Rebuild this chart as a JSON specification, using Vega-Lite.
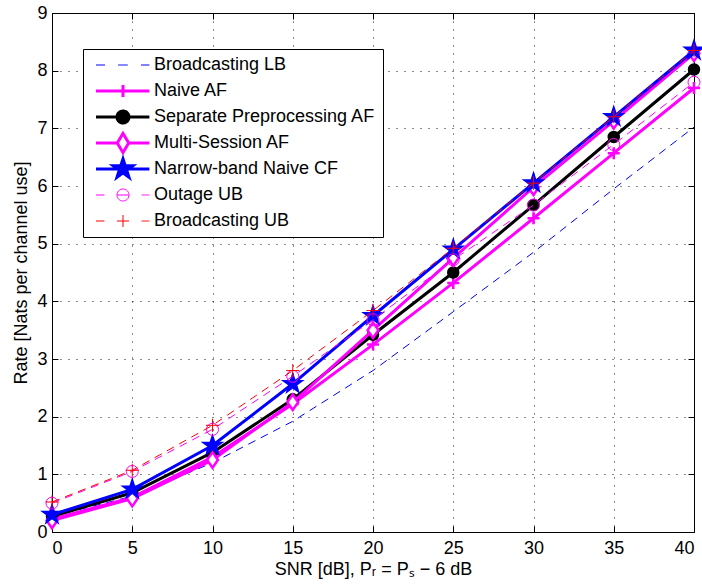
{
  "$schema": "https://vega.github.io/schema/vega-lite/v6.json",
  "width": 642,
  "height": 519,
  "autosize": "none",
  "padding": {"left": 52, "top": 13, "right": 8, "bottom": 52},
  "background": "white",
  "config": {
    "view": {"stroke": "black", "strokeWidth": 1},
    "font": "Liberation Sans",
    "axis": {
      "domainColor": "black",
      "tickColor": "black",
      "tickSize": -6,
      "labelColor": "black",
      "labelFont": "Liberation Sans",
      "labelFontSize": 18,
      "titleFont": "Liberation Sans",
      "titleFontSize": 18,
      "titleFontWeight": "normal",
      "titleColor": "black",
      "grid": true,
      "gridColor": "#000000",
      "gridOpacity": 0.9,
      "gridDash": [1, 7]
    }
  },
  "data": {
    "values": [
      {"series": "Broadcasting LB", "snr": 0, "rate": 0.27},
      {"series": "Broadcasting LB", "snr": 5, "rate": 0.62},
      {"series": "Broadcasting LB", "snr": 10, "rate": 1.2},
      {"series": "Broadcasting LB", "snr": 15, "rate": 1.92},
      {"series": "Broadcasting LB", "snr": 20, "rate": 2.8},
      {"series": "Broadcasting LB", "snr": 25, "rate": 3.82},
      {"series": "Broadcasting LB", "snr": 30, "rate": 4.85},
      {"series": "Broadcasting LB", "snr": 35, "rate": 5.95},
      {"series": "Broadcasting LB", "snr": 40, "rate": 7.02},
      {"series": "Naive AF", "snr": 0, "rate": 0.22},
      {"series": "Naive AF", "snr": 5, "rate": 0.6},
      {"series": "Naive AF", "snr": 10, "rate": 1.3},
      {"series": "Naive AF", "snr": 15, "rate": 2.22},
      {"series": "Naive AF", "snr": 20, "rate": 3.25},
      {"series": "Naive AF", "snr": 25, "rate": 4.32},
      {"series": "Naive AF", "snr": 30, "rate": 5.44},
      {"series": "Naive AF", "snr": 35, "rate": 6.57},
      {"series": "Naive AF", "snr": 40, "rate": 7.7},
      {"series": "Separate Preprocessing AF", "snr": 0, "rate": 0.27},
      {"series": "Separate Preprocessing AF", "snr": 5, "rate": 0.68},
      {"series": "Separate Preprocessing AF", "snr": 10, "rate": 1.38},
      {"series": "Separate Preprocessing AF", "snr": 15, "rate": 2.3},
      {"series": "Separate Preprocessing AF", "snr": 20, "rate": 3.42},
      {"series": "Separate Preprocessing AF", "snr": 25, "rate": 4.5},
      {"series": "Separate Preprocessing AF", "snr": 30, "rate": 5.67},
      {"series": "Separate Preprocessing AF", "snr": 35, "rate": 6.85},
      {"series": "Separate Preprocessing AF", "snr": 40, "rate": 8.02},
      {"series": "Multi-Session AF", "snr": 0, "rate": 0.2},
      {"series": "Multi-Session AF", "snr": 5, "rate": 0.58},
      {"series": "Multi-Session AF", "snr": 10, "rate": 1.25},
      {"series": "Multi-Session AF", "snr": 15, "rate": 2.25},
      {"series": "Multi-Session AF", "snr": 20, "rate": 3.5},
      {"series": "Multi-Session AF", "snr": 25, "rate": 4.75},
      {"series": "Multi-Session AF", "snr": 30, "rate": 5.98},
      {"series": "Multi-Session AF", "snr": 35, "rate": 7.13},
      {"series": "Multi-Session AF", "snr": 40, "rate": 8.3},
      {"series": "Narrow-band Naive CF", "snr": 0, "rate": 0.3},
      {"series": "Narrow-band Naive CF", "snr": 5, "rate": 0.74},
      {"series": "Narrow-band Naive CF", "snr": 10, "rate": 1.5},
      {"series": "Narrow-band Naive CF", "snr": 15, "rate": 2.57},
      {"series": "Narrow-band Naive CF", "snr": 20, "rate": 3.75},
      {"series": "Narrow-band Naive CF", "snr": 25, "rate": 4.9},
      {"series": "Narrow-band Naive CF", "snr": 30, "rate": 6.05},
      {"series": "Narrow-band Naive CF", "snr": 35, "rate": 7.2},
      {"series": "Narrow-band Naive CF", "snr": 40, "rate": 8.35},
      {"series": "Outage UB", "snr": 0, "rate": 0.5},
      {"series": "Outage UB", "snr": 5, "rate": 1.05},
      {"series": "Outage UB", "snr": 10, "rate": 1.78},
      {"series": "Outage UB", "snr": 15, "rate": 2.7},
      {"series": "Outage UB", "snr": 20, "rate": 3.68},
      {"series": "Outage UB", "snr": 25, "rate": 4.72},
      {"series": "Outage UB", "snr": 30, "rate": 5.67},
      {"series": "Outage UB", "snr": 35, "rate": 6.72},
      {"series": "Outage UB", "snr": 40, "rate": 7.8},
      {"series": "Broadcasting UB", "snr": 0, "rate": 0.52},
      {"series": "Broadcasting UB", "snr": 5, "rate": 1.07},
      {"series": "Broadcasting UB", "snr": 10, "rate": 1.85},
      {"series": "Broadcasting UB", "snr": 15, "rate": 2.8},
      {"series": "Broadcasting UB", "snr": 20, "rate": 3.84},
      {"series": "Broadcasting UB", "snr": 25, "rate": 4.92},
      {"series": "Broadcasting UB", "snr": 30, "rate": 6.05},
      {"series": "Broadcasting UB", "snr": 35, "rate": 7.2},
      {"series": "Broadcasting UB", "snr": 40, "rate": 8.35}
    ]
  },
  "encoding": {
    "x": {
      "field": "snr", "type": "quantitative",
      "scale": {"domain": [0, 40], "nice": false},
      "axis": {"values": [0, 5, 10, 15, 20, 25, 30, 35, 40], "labelPadding": 13, "titlePadding": 3, "title": "SNR [dB], Pᵣ = Pₛ − 6 dB"}
    },
    "y": {
      "field": "rate", "type": "quantitative",
      "scale": {"domain": [0, 9], "nice": false},
      "axis": {"values": [0, 1, 2, 3, 4, 5, 6, 7, 8, 9], "labelPadding": 11, "titlePadding": 6, "title": "Rate [Nats per channel use]"}
    },
    "color": {
      "field": "series", "type": "nominal",
      "scale": {
        "domain": ["Broadcasting LB", "Naive AF", "Separate Preprocessing AF", "Multi-Session AF", "Narrow-band Naive CF", "Outage UB", "Broadcasting UB"],
        "range": ["#0000ff", "#ff00ff", "#000000", "#ff00ff", "#0000ff", "#ff00ff", "#ff0000"]
      },
      "legend": {
        "title": null,
        "orient": "none",
        "legendX": 31,
        "legendY": 36,
        "strokeColor": "black",
        "fillColor": "white",
        "padding": 7,
        "cornerRadius": 0,
        "labelFont": "Liberation Sans",
        "labelFontSize": 18,
        "labelColor": "black",
        "labelLimit": 0,
        "symbolSize": 144,
        "rowPadding": -7,
        "gridAlign": "all",
        "symbolOffset": 24,
        "labelOffset": 22,
        "encode": {
          "symbols": {
            "update": {
              "shape": {"signal": "({'Broadcasting LB': 'M-4.5,0H-3M-0.8,0H0.8M3,0H4.4', 'Naive AF': 'M-4.5,0H4.4M0,-1V1', 'Separate Preprocessing AF': 'M-4.5,0H4.4M1,0A1,1,0,1,1,-1,0A1,1,0,1,1,1,0Z', 'Multi-Session AF': 'M-4.5,0H-0.95M0.95,0H4.4M0,-1.6L0.95,0L0,1.6L-0.95,0Z', 'Narrow-band Naive CF': 'M-4.5,0H4.4M0,-1.7L0.382,-0.525L1.617,-0.525L0.618,0.2L1,1.375L0,0.65L-1,1.375L-0.618,0.2L-1.617,-0.525L-0.382,-0.525Z', 'Outage UB': 'M-4.5,0H-3.1M3.1,0H4.4M1,0A1,1,0,1,1,-1,0A1,1,0,1,1,1,0ZM-1,0H1', 'Broadcasting UB': 'M-4.5,0H-3.1M3.1,0H4.4M-1,0H1M0,-1V1'})[datum.value]"},
              "fill": {"signal": "({'Separate Preprocessing AF': 'black', 'Narrow-band Naive CF': 'blue', 'Multi-Session AF': 'white'})[datum.value] || 'transparent'"},
              "stroke": {"signal": "({'Broadcasting LB': '#0000ff', 'Naive AF': '#ff00ff', 'Separate Preprocessing AF': '#000000', 'Multi-Session AF': '#ff00ff', 'Narrow-band Naive CF': '#0000ff', 'Outage UB': '#ff00ff', 'Broadcasting UB': '#ff0000'})[datum.value]"},
              "strokeWidth": {"signal": "indexof(['Naive AF', 'Separate Preprocessing AF', 'Multi-Session AF', 'Narrow-band Naive CF'], datum.value) >= 0 ? 3 : 1"},
              "strokeDash": {"value": [1, 0]},
              "opacity": {"value": 1}
            }
          }
        }
      }
    }
  },
  "layer": [
    {
      "layer": [
        {
          "transform": [{"filter": "datum.series === 'Broadcasting LB'"}],
          "mark": {"type": "line", "strokeWidth": 1, "strokeDash": [8, 6]}
        },
        {
          "transform": [{"filter": "datum.series === 'Naive AF'"}],
          "mark": {"type": "line", "strokeWidth": 3}
        },
        {
          "transform": [{"filter": "datum.series === 'Naive AF'"}],
          "mark": {"type": "point", "filled": false, "opacity": 1, "size": 144, "strokeWidth": 2.5, "shape": "M-1,0H1M0,-1V1"}
        },
        {
          "transform": [{"filter": "datum.series === 'Separate Preprocessing AF'"}],
          "mark": {"type": "line", "strokeWidth": 3}
        },
        {
          "transform": [{"filter": "datum.series === 'Separate Preprocessing AF'"}],
          "mark": {"type": "point", "filled": false, "opacity": 1, "size": 110, "strokeWidth": 2, "shape": "circle", "fill": "#000000"}
        },
        {
          "transform": [{"filter": "datum.series === 'Multi-Session AF'"}],
          "mark": {"type": "line", "strokeWidth": 3}
        },
        {
          "transform": [{"filter": "datum.series === 'Multi-Session AF'"}],
          "mark": {"type": "point", "filled": false, "opacity": 1, "size": 144, "strokeWidth": 2.5, "shape": "M0,-1.3L0.9,0L0,1.3L-0.9,0Z", "fill": "#ffffff"}
        },
        {
          "transform": [{"filter": "datum.series === 'Narrow-band Naive CF'"}],
          "mark": {"type": "line", "strokeWidth": 3}
        },
        {
          "transform": [{"filter": "datum.series === 'Narrow-band Naive CF'"}],
          "mark": {"type": "point", "filled": false, "opacity": 1, "size": 144, "strokeWidth": 2, "fill": "#0000ff", "shape": "M0,-1.55L0.348,-0.479L1.474,-0.479L0.563,0.183L0.911,1.254L0,0.592L-0.911,1.254L-0.563,0.183L-1.474,-0.479L-0.348,-0.479Z"}
        },
        {
          "transform": [{"filter": "datum.series === 'Outage UB'"}],
          "mark": {"type": "line", "strokeWidth": 1, "strokeDash": [8, 6]}
        },
        {
          "transform": [{"filter": "datum.series === 'Outage UB'"}],
          "mark": {"type": "point", "filled": false, "opacity": 1, "size": 144, "strokeWidth": 1, "shape": "circle"}
        },
        {
          "transform": [{"filter": "datum.series === 'Broadcasting UB'"}],
          "mark": {"type": "line", "strokeWidth": 1, "strokeDash": [8, 6]}
        },
        {
          "transform": [{"filter": "datum.series === 'Broadcasting UB'"}],
          "mark": {"type": "point", "filled": false, "opacity": 1, "size": 144, "strokeWidth": 1, "shape": "M-1.1,0H1.1M0,-1.1V1.1"}
        }
      ]
    },
    {
      "transform": [{"filter": "datum.series === 'Broadcasting LB'"}],
      "mark": {"type": "point", "opacity": 0},
      "encoding": {
        "x": {
          "field": "snr", "type": "quantitative",
          "scale": {"domain": [0, 40], "nice": false},
          "axis": {"orient": "top", "values": [0, 5, 10, 15, 20, 25, 30, 35, 40], "labels": false, "title": null, "grid": false, "domain": false}
        },
        "y": {
          "field": "rate", "type": "quantitative",
          "scale": {"domain": [0, 9], "nice": false},
          "axis": {"orient": "right", "values": [0, 1, 2, 3, 4, 5, 6, 7, 8, 9], "labels": false, "title": null, "grid": false, "domain": false}
        }
      }
    }
  ],
  "resolve": {"axis": {"x": "independent", "y": "independent"}}
}
